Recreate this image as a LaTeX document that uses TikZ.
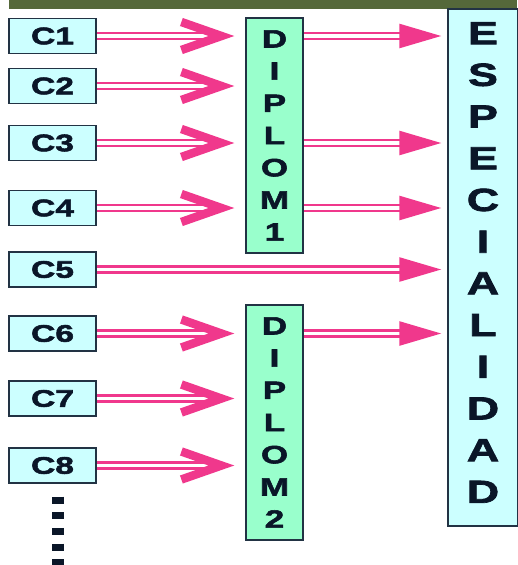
\documentclass[tikz,border=0pt]{standalone}
\usepackage{fontspec}
\setmainfont{Liberation Sans}
\newfontfamily\widefont[FakeStretch=1.4,FakeBold=2.2]{Liberation Sans}
\usetikzlibrary{arrows.meta}
\definecolor{pinkline}{HTML}{F0388C}
\definecolor{cfill}{HTML}{CCFFFF}
\definecolor{dfill}{HTML}{99FFCC}
\definecolor{edgec}{HTML}{223344}
\definecolor{txt}{HTML}{0A1628}
\definecolor{stripc}{HTML}{55683A}
\begin{document}
\begin{tikzpicture}[x=1pt,y=-1pt,
  cbox/.style={draw=edgec, line width=1.5pt, fill=cfill, minimum width=87pt, minimum height=35pt, inner sep=0pt, text=txt, font=\widefont\bfseries\fontsize{24}{24}\selectfont},
  dbox/.style={draw=edgec, line width=1.5pt, fill=dfill, minimum width=57pt, minimum height=235pt, inner sep=0pt, align=center, text=txt, font=\widefont\bfseries\fontsize{25}{32.2}\selectfont},
  ebox/.style={draw=edgec, line width=1.5pt, fill=cfill, minimum width=70pt, minimum height=517pt, inner sep=0pt},
  etext/.style={align=center, text=txt, inner sep=0pt, font=\widefont\bfseries\fontsize{32}{41.7}\selectfont},
  shaft/.style={draw=pinkline, double=white, line width=2.6pt, double distance=3.6pt},
  chev/.style={shaft, -{Straight Barb[length=40pt, width=28pt, line width=8.5pt, color=pinkline]}, shorten >=11pt},
  tri/.style={shaft, -{Triangle[length=42pt, width=24pt, color=pinkline]}, shorten >=6pt},
  dots/.style={draw=txt, line width=12pt, dash pattern=on 7pt off 8.7pt}
]
\useasboundingbox (0,0) rectangle (517,565);
\fill[white] (0,0) rectangle (517,565);
\fill[stripc] (9,0) rectangle (517,9);

\node[cbox] (c1) at (52.5,36) {C1};
\node[cbox] (c2) at (52.5,86) {C2};
\node[cbox] (c3) at (52.5,143) {C3};
\node[cbox] (c4) at (52.5,208) {C4};
\node[cbox] (c5) at (52.5,269.5) {C5};
\node[cbox] (c6) at (52.5,333.5) {C6};
\node[cbox] (c7) at (52.5,398.5) {C7};
\node[cbox] (c8) at (52.5,465.5) {C8};

\node[dbox] (d1) at (274.5,135.5) {D\\I\\P\\L\\O\\M\\1};
\node[dbox] (d2) at (274.5,422.5) {D\\I\\P\\L\\O\\M\\2};

\node[ebox] (esp) at (483,267.5) {};
\node[etext] (esptext) at (483,262.5) {E\\S\\P\\E\\C\\I\\A\\L\\I\\D\\A\\D};

\draw[chev] (c1.east) -- (c1.east -| d1.west);
\draw[chev] (c2.east) -- (c2.east -| d1.west);
\draw[chev] (c3.east) -- (c3.east -| d1.west);
\draw[chev] (c4.east) -- (c4.east -| d1.west);
\draw[chev] (c6.east) -- (c6.east -| d2.west);
\draw[chev] (c7.east) -- (c7.east -| d2.west);
\draw[chev] (c8.east) -- (c8.east -| d2.west);

\draw[tri] (c1.east -| d1.east) -- (c1.east -| esp.west);
\draw[tri] (c3.east -| d1.east) -- (c3.east -| esp.west);
\draw[tri] (c4.east -| d1.east) -- (c4.east -| esp.west);
\draw[tri] (c5.east) -- (c5.east -| esp.west);
\draw[tri] (c6.east -| d2.east) -- (c6.east -| esp.west);

\coordinate (dtop) at (58,496.5);
\coordinate (dbot) at (58,570);
\draw[dots] (dtop) -- (dbot);
\end{tikzpicture}
\end{document}
